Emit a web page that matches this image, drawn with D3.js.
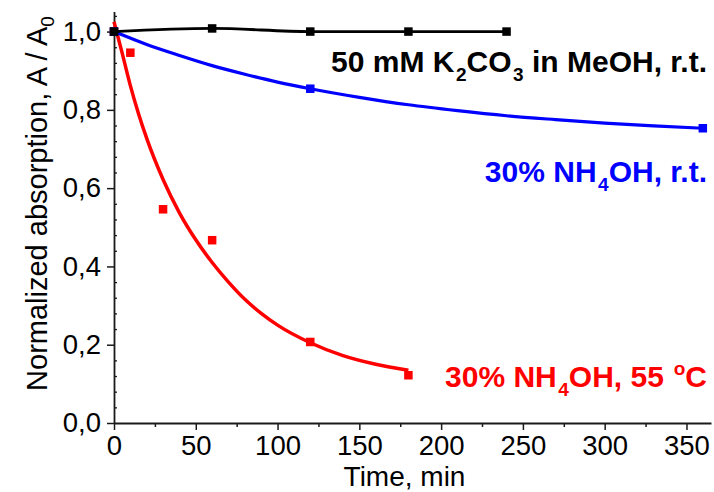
<!DOCTYPE html>
<html>
<head>
<meta charset="utf-8">
<script src="https://cdn.jsdelivr.net/npm/d3@7"></script>
<style>
  html, body { margin: 0; padding: 0; background: #fff; }
  svg { display: block; }
  text { font-family: "Liberation Sans", Arial, sans-serif; }
</style>
</head>
<body>
<svg id="chart" width="714" height="492"></svg>
<script>
// Measured series (time in min, normalized absorption A/A0)
const timeK2CO3 = [0, 60, 120, 180, 240];
const absK2CO3  = [1.0, 1.008, 1.0, 1.0, 1.0];

const timeNH4rt = [0, 120, 360];
const absNH4rt  = [1.0, 0.854, 0.753];

const timeNH455 = [0, 10, 30, 60, 120, 180];
const absNH455  = [1.0, 0.946, 0.546, 0.467, 0.207, 0.122];

// Exponential-decay fit curves, sampled along the drawn lines
const fitTimeNH4rt = [0, 20, 40, 60, 80, 100, 120, 150, 180, 210, 240, 270, 300, 330, 360];
const fitAbsNH4rt  = [1.0, 0.967, 0.939, 0.913, 0.891, 0.871, 0.854, 0.832, 0.813, 0.798, 0.785, 0.775, 0.766, 0.759, 0.753];

const fitTimeNH455 = [0, 5, 10, 15, 20, 30, 40, 50, 60, 70, 80, 90, 100, 120, 140, 160, 180];
const fitAbsNH455  = [1.025, 0.945, 0.862, 0.790, 0.727, 0.622, 0.537, 0.468, 0.410, 0.360, 0.316, 0.280, 0.250, 0.205, 0.172, 0.150, 0.135];

// Axis ticks
const xMajorTicks = [0, 50, 100, 150, 200, 250, 300, 350];
const xMinorTicks = [25, 75, 125, 175, 225, 275, 325];
const yMajorTicks = [0, 0.2, 0.4, 0.6, 0.8, 1.0];
const yMinorTicks = [0.04, 0.08, 0.12, 0.16, 0.24, 0.28, 0.32, 0.36, 0.44, 0.48, 0.52, 0.56,
                     0.64, 0.68, 0.72, 0.76, 0.84, 0.88, 0.92, 0.96, 1.04];

const svg = d3.select("#chart");
const plotLeft = 114, plotRight = 711, plotTop = 12, plotBottom = 423;

const x = d3.scaleLinear().domain([0, 365]).range([plotLeft, plotRight]);
const y = d3.scaleLinear().domain([0, 1.05]).range([plotBottom, plotTop]);

const axisColor = "#1a1a1a";
const tickFont = 27.5;

// Bottom axis: minor ticks, then major ticks with labels
const gxMin = svg.append("g").attr("transform", `translate(0,${plotBottom})`)
  .call(d3.axisBottom(x).tickValues(xMinorTicks).tickSize(4).tickFormat(""));
gxMin.select(".domain").remove();
gxMin.selectAll(".tick line").attr("stroke", axisColor).attr("stroke-width", 1.5);

const gxMaj = svg.append("g").attr("transform", `translate(0,${plotBottom})`)
  .call(d3.axisBottom(x).tickValues(xMajorTicks).tickSize(7).tickSizeOuter(0).tickPadding(5)
        .tickFormat(d3.format("d")));
gxMaj.select(".domain").attr("stroke", axisColor).attr("stroke-width", 1.8);
gxMaj.selectAll(".tick line").attr("stroke", axisColor).attr("stroke-width", 1.5);
gxMaj.selectAll("text").attr("font-size", tickFont).attr("fill", "#000")
  .attr("font-family", "Liberation Sans, Arial, sans-serif");

// Left axis: inward minor ticks, outward major ticks
const gyMin = svg.append("g").attr("transform", `translate(${plotLeft},0)`)
  .call(d3.axisRight(y).tickValues(yMinorTicks).tickSize(3).tickFormat(""));
gyMin.select(".domain").remove();
gyMin.selectAll(".tick line").attr("stroke", axisColor).attr("stroke-width", 1.3);

const gy = svg.append("g").attr("transform", `translate(${plotLeft},0)`)
  .call(d3.axisLeft(y).tickValues(yMajorTicks).tickSize(7).tickSizeOuter(0).tickPadding(6)
        .tickFormat(d => d3.format(".1f")(d).replace(".", ",")));
gy.select(".domain").attr("stroke", axisColor).attr("stroke-width", 1.8)
  .attr("d", `M0.5,${y(0)}V${plotTop}`);
gy.selectAll(".tick line").attr("stroke", axisColor).attr("stroke-width", 1.5);
gy.selectAll("text").attr("font-size", tickFont).attr("fill", "#000")
  .attr("font-family", "Liberation Sans, Arial, sans-serif");

// Axis titles
svg.append("text")
  .attr("x", (plotLeft + plotRight) / 2 - 8).attr("y", 486)
  .attr("text-anchor", "middle").attr("font-size", 28)
  .text("Time, min");

const yTitle = svg.append("text")
  .attr("transform", `translate(47,${(plotTop + plotBottom) / 2 - 14}) rotate(-90)`)
  .attr("text-anchor", "middle").attr("font-size", 29);
yTitle.append("tspan").text("Normalized absorption, A / A");
yTitle.append("tspan").attr("font-size", 19).attr("dy", 7).text("0");

// Series drawing
const zip = (a, b) => a.map((t, i) => [t, b[i]]);
const ms = 8.5;

function drawSeries(points, color, curvePts, curve, width) {
  const line = d3.line().x(d => x(d[0])).y(d => y(d[1])).curve(curve);
  svg.append("path")
    .attr("fill", "none").attr("stroke", color).attr("stroke-width", width)
    .attr("d", line(curvePts));
  svg.append("g").selectAll("rect").data(points).join("rect")
    .attr("x", d => x(d[0]) - ms / 2).attr("y", d => y(d[1]) - ms / 2)
    .attr("width", ms).attr("height", ms).attr("fill", color);
}

drawSeries(zip(timeNH455, absNH455), "#ff0000", zip(fitTimeNH455, fitAbsNH455), d3.curveMonotoneX, 3.5);
drawSeries(zip(timeNH4rt, absNH4rt), "#0000ff", zip(fitTimeNH4rt, fitAbsNH4rt), d3.curveMonotoneX, 3.2);
drawSeries(zip(timeK2CO3, absK2CO3), "#000000", zip(timeK2CO3, absK2CO3), d3.curveMonotoneX, 2.8);

// Series labels with sub/superscripts
function label(xPos, yPos, color, parts) {
  const t = svg.append("text").attr("x", xPos).attr("y", yPos)
    .attr("font-size", 30).attr("font-weight", "bold").attr("fill", color)
    .attr("text-anchor", "end");
  let shift = 0;
  parts.forEach(p => {
    const s = t.append("tspan").text(p.t);
    const target = p.sub ? 9 : p.sup ? -12 : 0;
    if (target !== shift) { s.attr("dy", target - shift); shift = target; }
    if (p.sub || p.sup) s.attr("font-size", 19).attr("dx", 1.5);
  });
}

label(707, 72, "#000000", [
  {t: "50 mM K"}, {t: "2", sub: true}, {t: "CO"}, {t: "3", sub: true}, {t: " in MeOH, r.t."}
]);
label(707, 182, "#0000ff", [
  {t: "30% NH"}, {t: "4", sub: true}, {t: "OH, r.t."}
]);
label(707, 387, "#ff0000", [
  {t: "30% NH"}, {t: "4", sub: true}, {t: "OH, 55 "}, {t: "o", sup: true}, {t: "C"}
]);
</script>
</body>
</html>
